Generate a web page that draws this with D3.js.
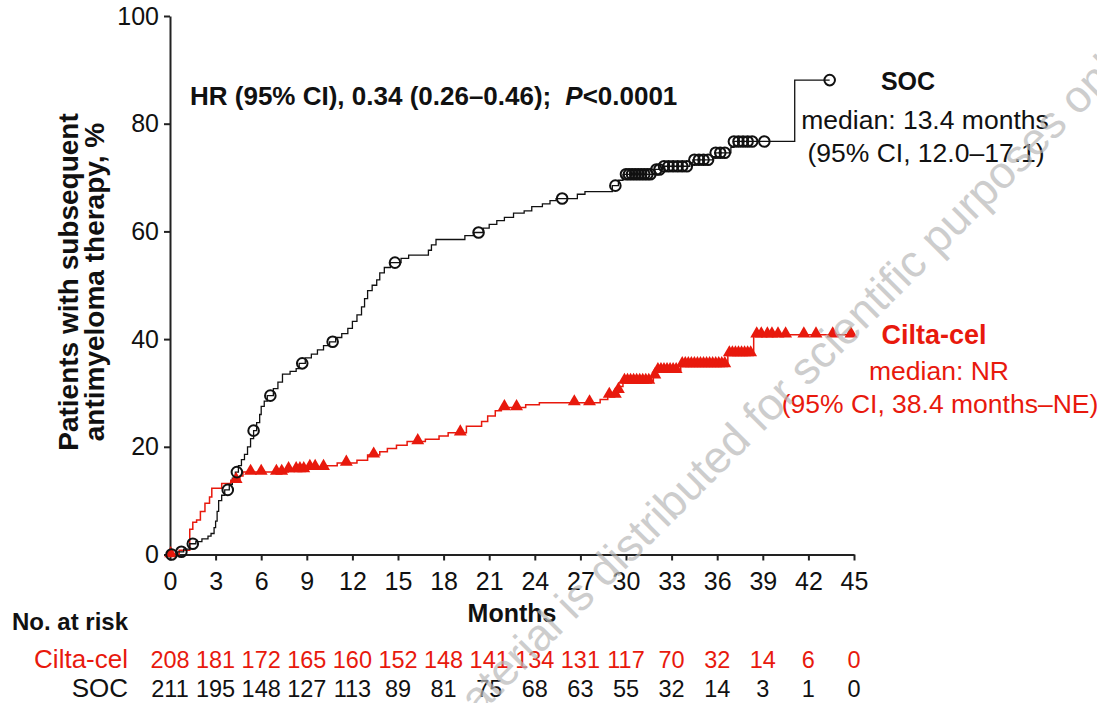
<!DOCTYPE html>
<html>
<head>
<meta charset="utf-8">
<script src="https://cdn.jsdelivr.net/npm/d3@7"></script>
<style>
  body { margin: 0; background: white; }
  text { font-family: "Liberation Sans", Arial, sans-serif; }
</style>
</head>
<body>
<div id="chart"></div>
<script>
// months of the x axis
var monthTicks = [0, 3, 6, 9, 12, 15, 18, 21, 24, 27, 30, 33, 36, 39, 42, 45];
var pctTicks = [0, 20, 40, 60, 80, 100];

// SOC cumulative incidence steps (month, %)
var socTime = [0, 0.5, 0.9, 1.3, 1.7, 2.1, 2.5, 2.7, 2.9, 3.0, 3.1, 3.2, 3.4, 3.6, 3.9, 4.1, 4.3, 4.5, 4.7, 4.9,
  5.1, 5.3, 5.5, 5.7, 5.9, 6.0, 6.2, 6.4, 6.8, 7.1, 7.4, 7.9, 8.3, 8.5, 8.9, 9.3, 9.7, 10.1, 10.5, 10.9,
  11.3, 11.7, 12.0, 12.3, 12.6, 12.8, 13.0, 13.3, 13.6, 13.8, 14.1, 14.5, 15.2, 15.7, 17.0, 17.2, 17.5, 19.4, 20.0, 20.6,
  21.0, 21.5, 22.0, 22.6, 23.3, 23.8, 24.5, 25.0, 25.4, 26.8, 27.3, 29.1, 29.5, 29.8, 31.9, 32.4, 34.2, 34.4, 35.7, 35.9,
  36.9, 37.1, 41.1, 43.4];
var socPct = [0, 0.5, 1.0, 2.0, 2.4, 2.9, 3.4, 3.9, 5.0, 6.2, 8.0, 10.0, 11.0, 12.0, 13.0, 14.2, 15.3, 16.5, 17.6, 18.6,
  20.0, 21.5, 23.0, 24.5, 26.0, 27.5, 28.5, 29.5, 30.8, 32.0, 33.5, 34.0, 34.5, 35.5, 36.5, 37.2, 38.0, 38.8, 39.5, 40.3,
  41.0, 42.0, 43.3, 44.5, 46.0, 47.5, 49.0, 50.0, 51.0, 52.3, 53.3, 54.2, 55.0, 55.6, 56.5, 57.5, 58.5, 59.2, 59.8, 60.6,
  61.3, 62.0, 62.6, 63.4, 63.8, 64.6, 65.1, 65.7, 66.1, 66.9, 67.4, 68.5, 69.5, 70.6, 71.5, 72.1, 72.7, 73.3, 73.9, 74.6,
  75.6, 76.7, 88.1, 88.1];
// SOC censored (months)
var socCensor = [0.1, 0.75, 1.5, 3.8, 4.4, 5.5, 6.6, 8.7, 10.7, 14.8, 20.3, 25.8, 29.3,
  30.0, 30.2, 30.4, 30.6, 30.8, 31.0, 31.2, 31.4, 31.6, 32.0, 32.2, 32.5, 32.8, 33.1, 33.4, 33.7, 34.0,
  34.5, 34.8, 35.1, 35.4, 35.9, 36.2, 36.5, 37.1, 37.4, 37.7, 38.0, 38.3, 39.1, 43.4];

// Cilta-cel cumulative incidence steps (month, %)
var ciltaTime = [0, 0.6, 1.3, 1.5, 1.75, 2.0, 2.3, 2.6, 2.75, 3.4, 4.0, 4.6, 4.8, 7.8, 9.0, 10.3, 11.0, 12.3, 13.0, 13.8,
  14.3, 14.9, 15.6, 16.8, 17.7, 18.3, 19.5, 20.5, 20.9, 21.4, 21.8, 23.4, 24.3, 28.3, 28.8, 29.4, 29.6, 29.8, 31.8, 32.0,
  33.6, 36.7, 38.4, 45];
var ciltaPct = [0, 0.8, 4.7, 6.0, 6.4, 8.0, 9.5, 10.7, 12.3, 13.2, 13.8, 14.6, 15.3, 15.8, 16.2, 16.5, 17.0, 17.5, 18.5, 19.1,
  19.7, 20.3, 21.0, 21.4, 22.0, 22.6, 23.8, 24.7, 25.7, 26.7, 27.3, 27.8, 28.2, 28.8, 29.6, 30.5, 31.2, 32.2, 33.2, 34.2,
  35.3, 37.3, 40.8, 40.8];
// Cilta-cel censored (months)
var ciltaCensor = [0.05, 4.35, 5.3, 6.0, 7.0, 7.35, 7.8, 8.3, 8.55, 8.8, 9.2, 9.55, 10.1, 11.6, 13.4, 16.3, 19.1, 22.0, 22.8,
  26.6, 27.6, 28.9, 29.3, 29.5, 29.9, 30.1, 30.3, 30.5, 30.7, 30.9, 31.1, 31.3, 31.5, 31.9, 32.1, 32.3, 32.5, 32.7, 32.9,
  33.1, 33.3, 33.7, 33.9, 34.1, 34.3, 34.5, 34.7, 34.9, 35.1, 35.3, 35.5, 35.7, 35.9, 36.1, 36.3, 36.5, 36.8, 37.0, 37.2,
  37.4, 37.6, 37.8, 38.0, 38.2, 38.6, 38.9, 39.3, 39.6, 40.0, 40.5, 41.7, 42.5, 43.6, 44.8];

// numbers at risk
var riskCilta = [208, 181, 172, 165, 160, 152, 148, 141, 134, 131, 117, 70, 32, 14, 6, 0];
var riskSoc = [211, 195, 148, 127, 113, 89, 81, 75, 68, 63, 55, 32, 14, 3, 1, 0];

var red = "#e8190d";
var ink = "#111";
var svgWidth = 1097;
var svgHeight = 703;

var margin = { top: 16, left: 170 };
var width = 684;
var height = 538.5;

var svg = d3.select("#chart")
  .append("svg")
  .attr("width", svgWidth)
  .attr("height", svgHeight);

var chartGroup = svg.append("g")
  .attr("transform", `translate(${margin.left}, ${margin.top})`);

var xScale = d3.scaleLinear().domain([0, 45]).range([0, width]);
var yScale = d3.scaleLinear().domain([0, 100]).range([height, 0]);

// axes
var bottomAxis = d3.axisBottom(xScale).tickValues(monthTicks).tickSize(6).tickPadding(12).tickSizeOuter(0);
var leftAxis = d3.axisLeft(yScale).tickValues(pctTicks).tickSize(6).tickPadding(5).tickSizeOuter(0);

var xg = chartGroup.append("g")
  .attr("transform", `translate(0, ${height})`)
  .call(bottomAxis);
var yg = chartGroup.append("g").call(leftAxis);

[xg, yg].forEach(function(g) {
  g.select(".domain").attr("stroke", "#222").attr("stroke-width", 2);
  g.selectAll(".tick line").attr("stroke", "#222").attr("stroke-width", 2);
  g.selectAll(".tick text")
    .attr("fill", ink)
    .attr("font-size", "25px")
    .attr("font-family", "'Liberation Sans', Arial, sans-serif");
});

function stepData(times, pcts) {
  return times.map(function(t, i) { return [t, pcts[i]]; });
}
function pctAt(times, pcts, t) {
  var i = d3.bisectRight(times, t) - 1;
  return pcts[Math.max(0, i)];
}

var line = d3.line()
  .x(d => xScale(d[0]))
  .y(d => yScale(d[1]))
  .curve(d3.curveStepAfter);

// Cilta-cel
chartGroup.append("path")
  .datum(stepData(ciltaTime, ciltaPct))
  .attr("d", line)
  .attr("fill", "none")
  .attr("stroke", red)
  .attr("stroke-width", 1.5);

// SOC
chartGroup.append("path")
  .datum(stepData(socTime, socPct))
  .attr("d", line)
  .attr("fill", "none")
  .attr("stroke", ink)
  .attr("stroke-width", 1.3);

chartGroup.selectAll(".tri")
  .data(ciltaCensor)
  .enter()
  .append("path")
  .attr("class", "tri")
  .attr("d", d3.symbol(d3.symbolTriangle, 72))
  .attr("transform", d => `translate(${xScale(d)}, ${yScale(pctAt(ciltaTime, ciltaPct, d)) - 1})`)
  .attr("fill", red);

chartGroup.selectAll(".circ")
  .data(socCensor)
  .enter()
  .append("circle")
  .attr("class", "circ")
  .attr("cx", d => xScale(d))
  .attr("cy", d => yScale(pctAt(socTime, socPct, d)))
  .attr("r", 5.3)
  .attr("fill", "none")
  .attr("stroke", ink)
  .attr("stroke-width", 2);

// axis titles
chartGroup.append("text")
  .attr("x", width / 2)
  .attr("y", height + 67)
  .attr("text-anchor", "middle")
  .attr("font-size", "25px")
  .attr("font-weight", "bold")
  .attr("fill", ink)
  .text("Months");

var yTitle = svg.append("text")
  .attr("transform", "translate(78, 282) rotate(-90)")
  .attr("text-anchor", "middle")
  .attr("font-size", "28px")
  .attr("font-weight", "bold")
  .attr("fill", ink);
yTitle.append("tspan").attr("x", 0).attr("y", 0).text("Patients with subsequent");
yTitle.append("tspan").attr("x", 0).attr("y", 26).text("antimyeloma therapy, %");

// HR annotation
var hr = svg.append("text")
  .attr("x", 190)
  .attr("y", 105)
  .attr("font-size", "26px")
  .attr("font-weight", "bold")
  .attr("fill", ink);
hr.append("tspan").text("HR (95% CI), 0.34 (0.26\u20130.46);");
hr.append("tspan").attr("dx", 14).attr("font-style", "italic").text("P");
hr.append("tspan").text("<0.0001");

// SOC label
svg.append("text").attr("x", 908).attr("y", 90).attr("text-anchor", "middle")
  .attr("font-size", "25px").attr("font-weight", "bold").attr("fill", ink).text("SOC");
svg.append("text").attr("x", 925).attr("y", 129).attr("text-anchor", "middle")
  .attr("font-size", "26.5px").attr("fill", ink).text("median: 13.4 months");
svg.append("text").attr("x", 926).attr("y", 162).attr("text-anchor", "middle")
  .attr("font-size", "26.5px").attr("fill", ink).text("(95% CI, 12.0\u201317.1)");

// Cilta-cel label
svg.append("text").attr("x", 934).attr("y", 344).attr("text-anchor", "middle")
  .attr("font-size", "27px").attr("font-weight", "bold").attr("fill", red).text("Cilta-cel");
svg.append("text").attr("x", 939).attr("y", 380).attr("text-anchor", "middle")
  .attr("font-size", "26.5px").attr("fill", red).text("median: NR");
svg.append("text").attr("x", 940).attr("y", 413).attr("text-anchor", "middle")
  .attr("font-size", "26.5px").attr("fill", red).text("(95% CI, 38.4 months\u2013NE)");

// number at risk table
svg.append("text").attr("x", 12).attr("y", 630)
  .attr("font-size", "24px").attr("font-weight", "bold").attr("fill", ink).text("No. at risk");

svg.append("text").attr("x", 128).attr("y", 668).attr("text-anchor", "end")
  .attr("font-size", "26px").attr("fill", red).text("Cilta-cel");
svg.append("text").attr("x", 128).attr("y", 697).attr("text-anchor", "end")
  .attr("font-size", "26px").attr("fill", ink).text("SOC");

svg.selectAll(".riskC")
  .data(riskCilta)
  .enter()
  .append("text")
  .attr("class", "riskC")
  .attr("x", (d, i) => margin.left + xScale(monthTicks[i]))
  .attr("y", 668)
  .attr("text-anchor", "middle")
  .attr("font-size", "23.5px")
  .attr("fill", red)
  .text(d => d);

svg.selectAll(".riskS")
  .data(riskSoc)
  .enter()
  .append("text")
  .attr("class", "riskS")
  .attr("x", (d, i) => margin.left + xScale(monthTicks[i]))
  .attr("y", 697)
  .attr("text-anchor", "middle")
  .attr("font-size", "23.5px")
  .attr("fill", ink)
  .text(d => d);

// watermark
svg.append("text")
  .attr("transform", "translate(383, 812) rotate(-45)")
  .attr("font-size", "45px")
  .attr("fill", "#b8b8b8")
  .attr("opacity", 0.7)
  .text("This material is distributed for scientific purposes only");
</script>
</body>
</html>
